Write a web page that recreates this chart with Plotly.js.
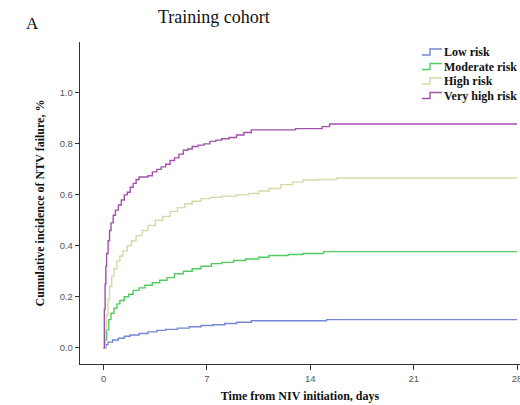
<!DOCTYPE html>
<html><head><meta charset="utf-8">
<script src="https://cdn.plot.ly/plotly-3.0.1.min.js"></script>
<style>html,body{margin:0;padding:0;background:#fff;}#chart{width:520px;height:405px;}</style>
</head><body><div id="chart"></div>
<script>
const seriesNames = ["Low risk", "Moderate risk", "High risk", "Very high risk"];
const xTicks = [0, 7, 14, 21, 28];
const yTicks = [0.0, 0.2, 0.4, 0.6, 0.8, 1.0];

const lowT = [0, 0.15, 0.3, 0.6, 1.0, 1.4, 1.8, 2.4, 3.0, 3.6, 4.2, 5.0, 5.8, 6.6, 7.4, 8.2, 9.0, 10.0, 15.1, 28];
const lowV = [0, 0.012, 0.022, 0.03, 0.037, 0.045, 0.05, 0.056, 0.062, 0.068, 0.072, 0.077, 0.082, 0.087, 0.09, 0.095, 0.1, 0.106, 0.11, 0.11];

const modT = [0, 0.1, 0.2, 0.35, 0.5, 0.7, 0.9, 1.1, 1.4, 1.7, 2.0, 2.4, 2.8, 3.3, 3.8, 4.3, 4.8, 5.4, 6.0, 6.6, 7.3, 8.0, 8.8, 9.6, 10.5, 11.2, 12.5, 13.5, 14.9, 28];
const modV = [0, 0.03, 0.07, 0.11, 0.135, 0.155, 0.172, 0.185, 0.2, 0.21, 0.225, 0.235, 0.245, 0.255, 0.265, 0.275, 0.29, 0.3, 0.31, 0.32, 0.33, 0.335, 0.342, 0.348, 0.355, 0.362, 0.366, 0.37, 0.377, 0.377];

const highT = [0, 0.1, 0.2, 0.3, 0.4, 0.55, 0.7, 0.9, 1.1, 1.3, 1.6, 1.9, 2.2, 2.6, 3.0, 3.5, 4.0, 4.5, 5.0, 5.5, 6.0, 6.6, 7.2, 8.0, 9.0, 9.8, 10.5, 11.2, 12.0, 12.8, 13.5, 14.5, 15.8, 28];
const highV = [0, 0.07, 0.13, 0.19, 0.24, 0.28, 0.31, 0.34, 0.36, 0.38, 0.4, 0.42, 0.44, 0.46, 0.48, 0.5, 0.515, 0.535, 0.55, 0.565, 0.575, 0.585, 0.59, 0.595, 0.6, 0.605, 0.615, 0.625, 0.64, 0.65, 0.658, 0.66, 0.666, 0.666];

const vhighT = [0, 0.05, 0.1, 0.15, 0.2, 0.3, 0.4, 0.5, 0.65, 0.8, 1.0, 1.2, 1.4, 1.6, 1.8, 2.0, 2.2, 2.4, 2.7, 3.0, 3.3, 3.6, 3.9, 4.2, 4.5, 4.8, 5.1, 5.4, 5.7, 6.0, 6.4, 6.8, 7.2, 7.6, 8.0, 8.5, 9.0, 9.5, 10.0, 13.0, 14.8, 15.3, 28];
const vhighV = [0, 0.15, 0.25, 0.32, 0.37, 0.42, 0.46, 0.49, 0.52, 0.54, 0.56, 0.58, 0.6, 0.61, 0.63, 0.645, 0.66, 0.67, 0.67, 0.675, 0.69, 0.7, 0.71, 0.72, 0.735, 0.745, 0.76, 0.775, 0.78, 0.79, 0.795, 0.8, 0.81, 0.815, 0.82, 0.825, 0.835, 0.845, 0.855, 0.86, 0.868, 0.878, 0.878];

const colors = ["#7486d4", "#55cc62", "#d9d8a8", "#a052aa"];
const xs = [lowT, modT, highT, vhighT];
const ys = [lowV, modV, highV, vhighV];

const traces = seriesNames.map((n, i) => ({
  type: "scatter", mode: "lines", name: n, x: xs[i], y: ys[i],
  line: {shape: "hv", color: colors[i], width: 1.4}
}));

const serif = "Liberation Serif, Times New Roman, serif";
const M = {l: 80, r: 0, t: 42, b: 41};
const PW = 520 - M.l - M.r, PH = 405 - M.t - M.b;
const px = v => (v - M.l) / PW;
const py = v => (405 - M.b - v) / PH;

// Legend drawn with shapes (step glyph) and annotations
const legRows = [52, 66.5, 81, 95.5];
const shapes = [], annotations = [];
seriesNames.forEach((n, i) => {
  const c = legRows[i];
  shapes.push({type: "path", xref: "paper", yref: "paper",
    path: `M ${px(422)} ${py(c + 3)} L ${px(430)} ${py(c + 3)} L ${px(430)} ${py(c - 3)} L ${px(442)} ${py(c - 3)}`,
    line: {color: colors[i], width: 1.4}});
  annotations.push({text: "<b>" + n + "</b>", xref: "paper", yref: "paper", x: px(442), y: py(c),
    xanchor: "left", yanchor: "middle", showarrow: false, align: "left",
    font: {family: serif, size: 12, color: "#111"}});
});
annotations.push({text: "Training cohort", xref: "paper", yref: "paper", x: px(214), y: py(17),
  xanchor: "center", yanchor: "middle", showarrow: false, font: {family: serif, size: 18, color: "#111"}});
annotations.push({text: "A", xref: "paper", yref: "paper", x: px(24), y: py(23),
  xanchor: "left", yanchor: "middle", showarrow: false, font: {family: serif, size: 17, color: "#111"}});

const layout = {
  width: 520, height: 405,
  margin: {l: M.l, r: M.r, t: M.t, b: M.b, autoexpand: false},
  paper_bgcolor: "#fff", plot_bgcolor: "#fff",
  showlegend: false,
  xaxis: {range: [-1.6, 28.2], tickvals: xTicks, ticktext: xTicks.map(String), ticklabeloverflow: "allow",
    showline: true, linecolor: "#333", linewidth: 1.2, ticks: "outside", ticklen: 5, tickcolor: "#333",
    showgrid: false, zeroline: false, tickfont: {family: "Liberation Sans, Arial", size: 9.5, color: "#555"},
    title: {text: "<b>Time from NIV initiation, days</b>", font: {family: serif, size: 12, color: "#111"}, standoff: 9}},
  yaxis: {range: [-0.064, 1.2], tickvals: yTicks, ticktext: yTicks.map(v => v.toFixed(1)),
    showline: true, linecolor: "#333", linewidth: 1.2, ticks: "outside", ticklen: 4, tickcolor: "#333",
    showgrid: false, zeroline: false, tickfont: {family: "Liberation Sans, Arial", size: 9.5, color: "#555"},
    title: {text: "<b>Cumulative incidence of NTV failure, %</b>", font: {family: serif, size: 12, color: "#111"}, standoff: 12}},
  shapes: shapes,
  annotations: annotations
};
Plotly.newPlot("chart", traces, layout, {displayModeBar: false, staticPlot: true});
</script></body></html>
